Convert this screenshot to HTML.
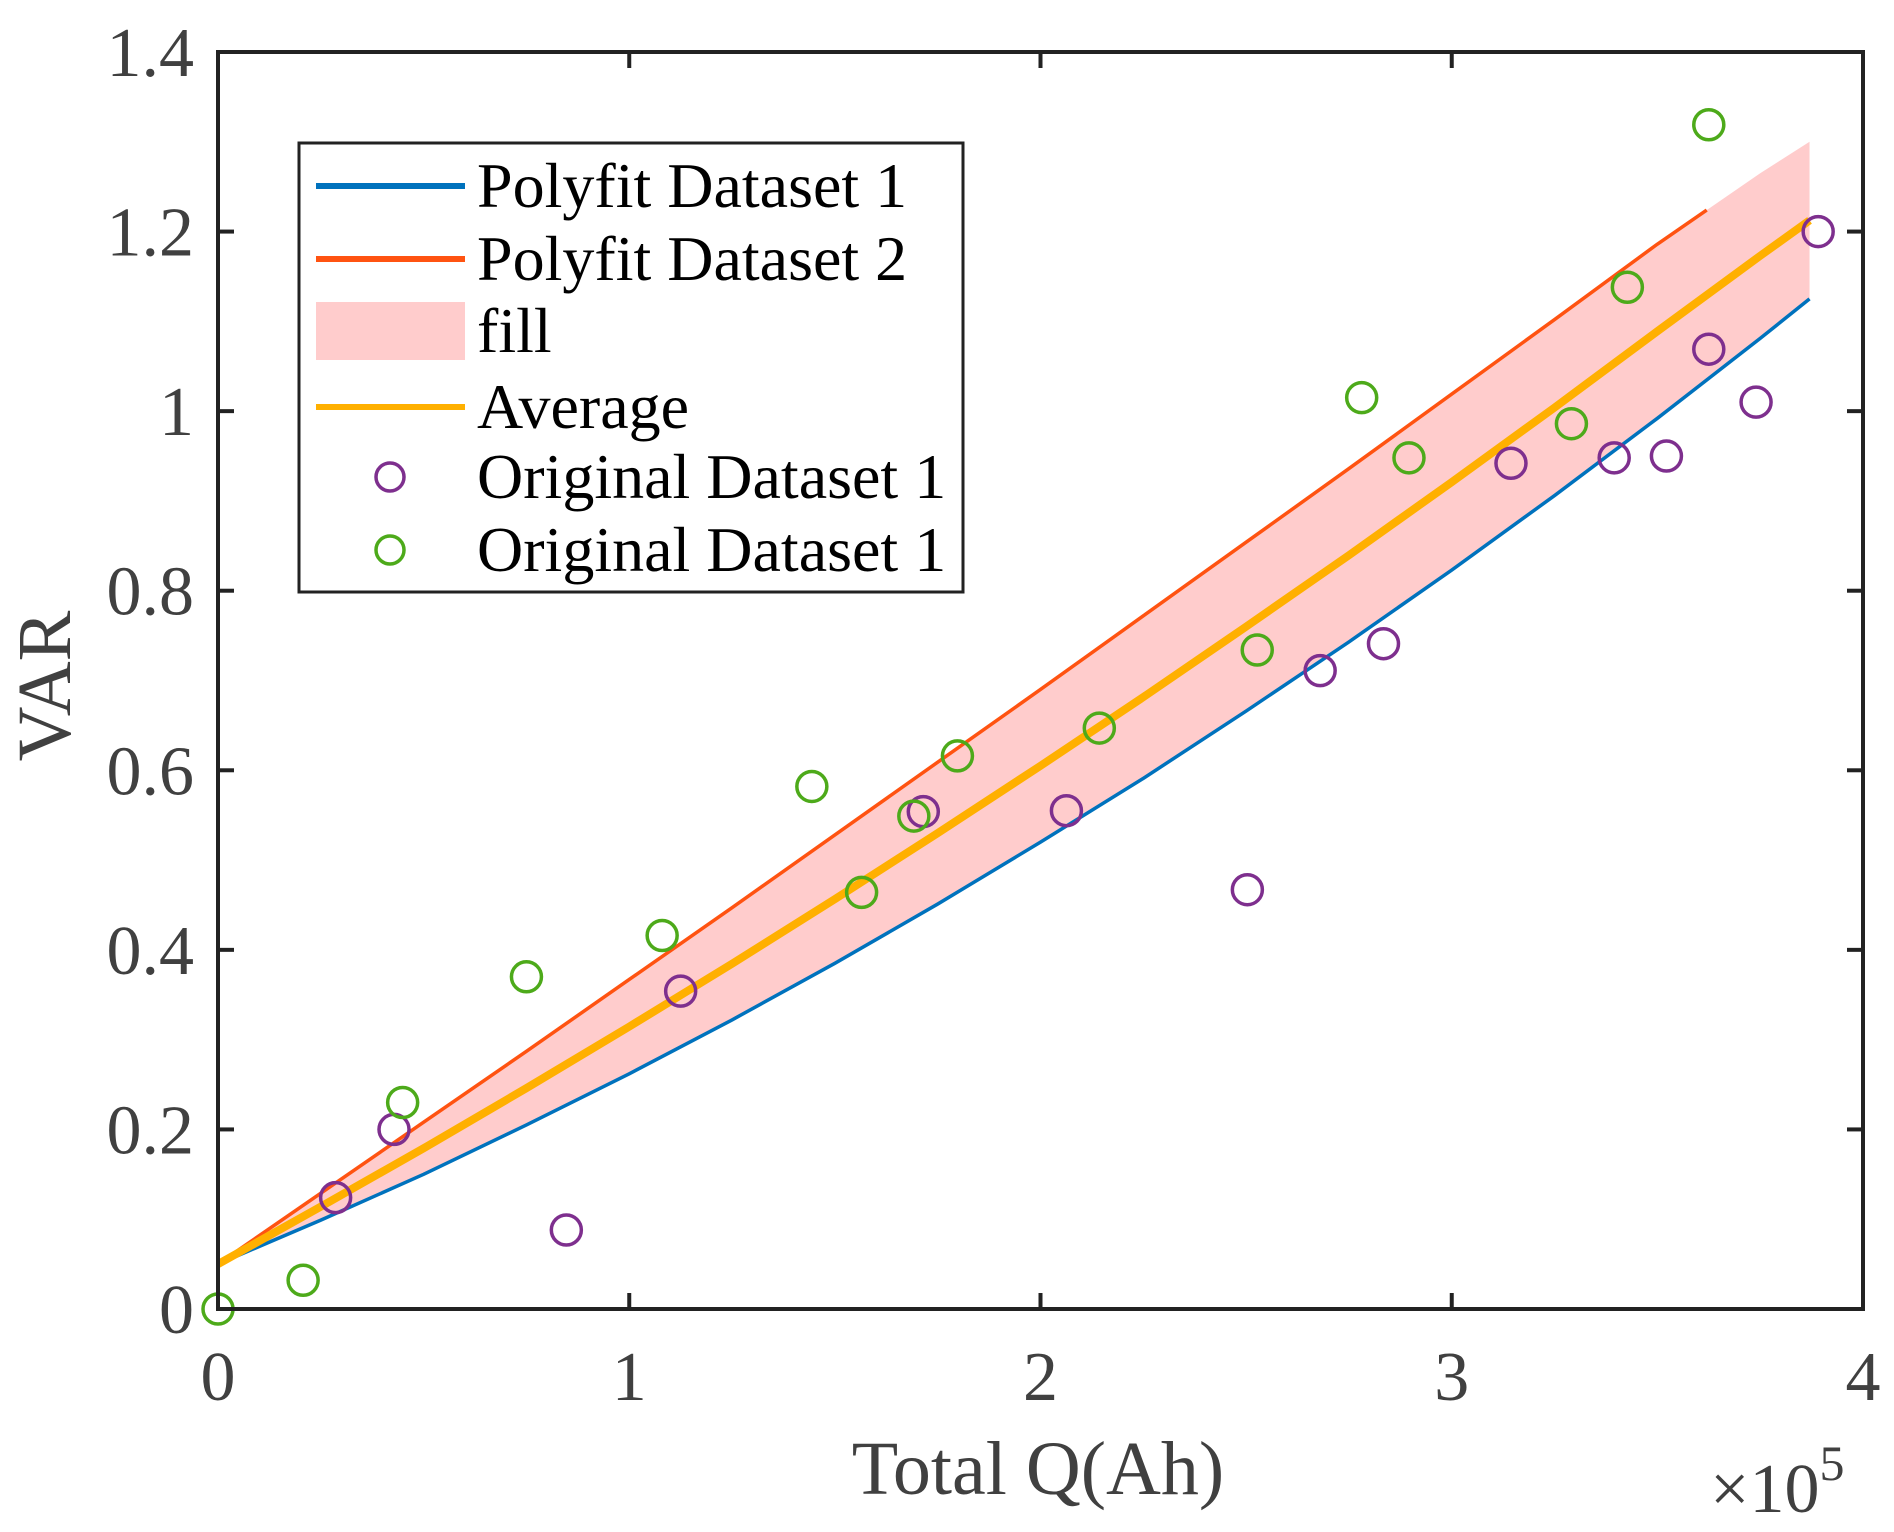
<!DOCTYPE html>
<html><head><meta charset="utf-8"><style>
html,body{margin:0;padding:0;background:#fff;}
svg{display:block;font-family:"Liberation Serif",serif;}
</style></head><body>
<svg id="chart" width="1894" height="1532" viewBox="0 0 1894 1532" xmlns="http://www.w3.org/2000/svg">
<g id="plot"></g>
<g id="axes"></g>
<g id="legend"></g>
<text x="0" y="0" transform="translate(70,686) rotate(-90)" text-anchor="middle" font-size="76" fill="#404040">VAR</text>
<text x="1038" y="1494" text-anchor="middle" font-size="76" fill="#404040">Total Q(Ah)</text>
<text x="1710" y="1512" font-size="70" fill="#404040">×10<tspan font-size="50" dy="-32">5</tspan></text>
</svg>
<script>
const xTicks = [0, 1, 2, 3, 4];
const yTicks = [0, 0.2, 0.4, 0.6, 0.8, 1, 1.2, 1.4];
const yTickLabels = ["0", "0.2", "0.4", "0.6", "0.8", "1", "1.2", "1.4"];
const fitX = [0, 0.25, 0.5, 0.75, 1, 1.25, 1.5, 1.75, 2, 2.25, 2.5, 2.75, 3, 3.25, 3.5, 3.75, 3.87];
const fit1Y = [0.05, 0.099, 0.150, 0.205, 0.262, 0.322, 0.385, 0.451, 0.52, 0.591, 0.666, 0.743, 0.823, 0.906, 0.992, 1.081, 1.125];
const upperY = [0.05, 0.129, 0.208, 0.287, 0.367, 0.447, 0.528, 0.609, 0.69, 0.772, 0.854, 0.936, 1.019, 1.102, 1.186, 1.265, 1.30];
const fit2X = [0, 0.25, 0.5, 0.75, 1, 1.25, 1.5, 1.75, 2, 2.25, 2.5, 2.75, 3, 3.25, 3.5, 3.62];
const fit2Y = [0.05, 0.129, 0.208, 0.287, 0.367, 0.447, 0.528, 0.609, 0.69, 0.772, 0.854, 0.936, 1.019, 1.102, 1.186, 1.224];
const orig1X = [0.286, 0.428, 0.847, 1.125, 1.715, 2.063, 2.503, 2.68, 2.834, 3.144, 3.395, 3.522, 3.625, 3.74, 3.891];
const orig1Y = [0.124, 0.20, 0.088, 0.354, 0.554, 0.555, 0.467, 0.711, 0.741, 0.942, 0.948, 0.950, 1.069, 1.010, 1.200];
const orig2X = [0, 0.207, 0.449, 0.75, 1.08, 1.444, 1.565, 1.692, 1.798, 2.143, 2.527, 2.781, 2.896, 3.291, 3.427, 3.625];
const orig2Y = [0, 0.032, 0.23, 0.37, 0.416, 0.582, 0.464, 0.549, 0.616, 0.647, 0.734, 1.015, 0.948, 0.986, 1.138, 1.319];

const L = 218, R = 1863, T = 52, B = 1309;
const X = v => L + (v - 0) / 4 * (R - L);
const Y = v => B - (v - 0) / 1.4 * (B - T);
const NS = "http://www.w3.org/2000/svg";
function mk(tag, attrs, parent) {
  const e = document.createElementNS(NS, tag);
  for (const k in attrs) e.setAttribute(k, attrs[k]);
  parent.appendChild(e);
  return e;
}
const plot = document.getElementById('plot');
const axes = document.getElementById('axes');
const legend = document.getElementById('legend');

let d = fitX.map((x, i) => (i ? 'L' : 'M') + X(x) + ' ' + Y(upperY[i])).join(' ');
for (let i = fitX.length - 1; i >= 0; i--) d += ' L' + X(fitX[i]) + ' ' + Y(fit1Y[i]);
const fill = mk('path', {d: d + ' Z', fill: '#FFCCCC', stroke: 'none'}, plot);



function line(xs, ys, color, w, name) {
  const p = mk('path', {d: xs.map((x, i) => (i ? 'L' : 'M') + X(x) + ' ' + Y(ys[i])).join(' '), fill: 'none', stroke: color, 'stroke-width': w, 'stroke-linejoin': 'round'}, plot);
  
  
}
line(fitX, fit1Y, '#0072BD', 3.5, 'polyfit-dataset-1-line');
line(fit2X, fit2Y, '#FF5311', 3.5, 'polyfit-dataset-2-line');
const avgY = fit1Y.map((v, i) => (v + upperY[i]) / 2);
line(fitX, avgY, '#FFB000', 8, 'average-line');

function pts(xs, ys, color, name) {
  xs.forEach((x, i) => {
    const c = mk('circle', {cx: X(x), cy: Y(ys[i]), r: 15, fill: 'none', stroke: color, 'stroke-width': 3.5}, plot);
    
    
  });
}
pts(orig1X, orig1Y, '#7E2F8E', 'original-dataset-1-point');
pts(orig2X, orig2Y, '#4DAA1A', 'original-dataset-2-point');

const box = mk('rect', {x: L, y: T, width: R - L, height: B - T, fill: 'none', stroke: '#222', 'stroke-width': 4}, axes);


xTicks.forEach(v => {
  const x = X(v);
  mk('line', {x1: x, y1: B, x2: x, y2: B - 16, stroke: '#222', 'stroke-width': 4}, axes);
  mk('line', {x1: x, y1: T, x2: x, y2: T + 16, stroke: '#222', 'stroke-width': 4}, axes);
  const t = mk('text', {x: x, y: 1400, 'text-anchor': 'middle', 'font-size': 70, fill: '#404040'}, axes);
  t.textContent = String(v);
  
  
});
yTicks.forEach((v, i) => {
  const y = Y(v);
  mk('line', {x1: L, y1: y, x2: L + 16, y2: y, stroke: '#222', 'stroke-width': 4}, axes);
  mk('line', {x1: R, y1: y, x2: R - 16, y2: y, stroke: '#222', 'stroke-width': 4}, axes);
  const t = mk('text', {x: 194, y: y + 24, 'text-anchor': 'end', 'font-size': 70, fill: '#404040'}, axes);
  t.textContent = yTickLabels[i];
  
  
});

const lb = mk('rect', {x: 299, y: 143, width: 664, height: 449, fill: '#fff', stroke: '#222', 'stroke-width': 3}, legend);


const entries = [
  {t: 'Polyfit Dataset 1', k: 'line', c: '#0072BD', w: 6},
  {t: 'Polyfit Dataset 2', k: 'line', c: '#FF5311', w: 6},
  {t: 'fill', k: 'fill', c: '#FFCCCC'},
  {t: 'Average', k: 'line', c: '#FFB000', w: 6},
  {t: 'Original Dataset 1', k: 'circ', c: '#7E2F8E'},
  {t: 'Original Dataset 1', k: 'circ', c: '#4DAA1A'}
];
const rowY = [186, 259, 331, 407, 477, 550];
entries.forEach((e, i) => {
  const y = rowY[i];
  if (e.k === 'line') mk('line', {x1: 316, y1: y, x2: 465, y2: y, stroke: e.c, 'stroke-width': e.w}, legend);
  else if (e.k === 'fill') mk('rect', {x: 316, y: y - 29, width: 149, height: 58, fill: e.c}, legend);
  else mk('circle', {cx: 390, cy: y, r: 14, fill: 'none', stroke: e.c, 'stroke-width': 3.5}, legend);
  const t = mk('text', {x: 477, y: y + 21, 'font-size': 64, fill: '#000'}, legend);
  t.textContent = e.t;
  
  
});
</script>
</body></html>
